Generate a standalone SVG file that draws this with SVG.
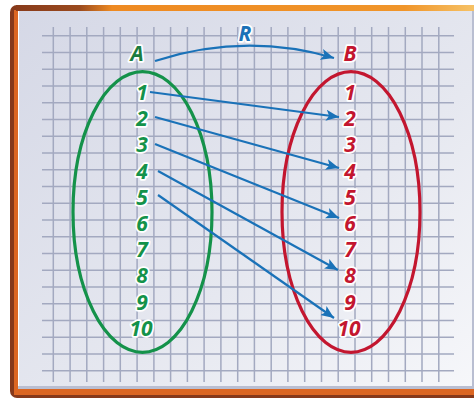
<svg xmlns="http://www.w3.org/2000/svg" width="474" height="398" viewBox="0 0 474 398">
  <defs>
    <linearGradient id="topbar" x1="10" y1="0" x2="474" y2="0" gradientUnits="userSpaceOnUse">
      <stop offset="0" stop-color="#86391b"/>
      <stop offset="0.15" stop-color="#9a4a1e"/>
      <stop offset="0.22" stop-color="#ee8a22"/>
      <stop offset="0.85" stop-color="#f0952a"/>
      <stop offset="1" stop-color="#f6c266"/>
    </linearGradient>
    <linearGradient id="paper" x1="0" y1="0" x2="1" y2="1">
      <stop offset="0" stop-color="#d5d8e6"/>
      <stop offset="0.6" stop-color="#e6e8f0"/>
      <stop offset="1" stop-color="#f6f7fa"/>
    </linearGradient>
    <marker id="ah" markerUnits="userSpaceOnUse" markerWidth="14" markerHeight="12" refX="13" refY="6" orient="auto">
      <path d="M0,0.5 L13,6 L0,11.5 L3,6 Z" fill="#1a72b8"/>
    </marker>
    <style>
      .grid { stroke: #a3a9c0; stroke-width: 1.5; fill: none; }
      .lbl { font-family: "Open Sans", "Liberation Sans", sans-serif; font-weight: bold; font-style: italic; font-size: 21px; text-anchor: middle; stroke: #ffffff; stroke-width: 3.5; stroke-linejoin: round; paint-order: stroke; }
      .g { fill: #14924a; }
      .gA { fill: #1b7c40; }
      .r { fill: #c3162f; }
      .b { fill: #1a72b8; }
      .conn { stroke: #1a72b8; stroke-width: 2.2; fill: none; marker-end: url(#ah); }
    </style>
  </defs>

  <!-- frame -->
  <rect x="10" y="5" width="480" height="393" rx="7" fill="#86391b"/>
  <rect x="14" y="10" width="470" height="385" fill="#dc6622"/>
  <rect x="16" y="5" width="470" height="6" fill="url(#topbar)"/>
  <rect x="18" y="11" width="456" height="378" fill="#b9bed1"/>
  <rect x="18" y="11" width="454" height="375" fill="url(#paper)"/>
  <line x1="18.5" y1="11" x2="18.5" y2="386" stroke="#ffffff" stroke-width="1"/>

  <!-- grid -->
  <path class="grid" d="M53.3,27V382 M70.1,27V382 M86.8,27V382 M103.6,27V382 M120.3,27V382 M137.1,27V382 M153.9,27V382 M170.6,27V382 M187.4,27V382 M204.1,27V382 M220.9,27V382 M237.7,27V382 M254.4,27V382 M271.2,27V382 M287.9,27V382 M304.7,27V382 M321.5,27V382 M338.2,27V382 M355,27V382 M371.7,27V382 M388.5,27V382 M405.3,27V382 M422,27V382 M438.8,27V382
  M42,35.7H454 M42,52.5H454 M42,69.2H454 M42,86H454 M42,102.7H454 M42,119.5H454 M42,136.2H454 M42,153H454 M42,169.7H454 M42,186.5H454 M42,203.2H454 M42,220H454 M42,236.7H454 M42,253.5H454 M42,270.2H454 M42,287H454 M42,303.7H454 M42,320.5H454 M42,337.2H454 M42,354H454 M42,370.7H454"/>

  <!-- set A -->
  <g id="setA">
    <ellipse cx="142.5" cy="212" rx="69.5" ry="140.3" fill="none" stroke="#14924a" stroke-width="3.2"/>
    <text class="lbl gA" x="137" y="61">A</text>
    <text class="lbl g" x="142" y="100">1</text>
    <text class="lbl g" x="142" y="126.2">2</text>
    <text class="lbl g" x="142" y="152.4">3</text>
    <text class="lbl g" x="142" y="178.6">4</text>
    <text class="lbl g" x="142" y="204.8">5</text>
    <text class="lbl g" x="142" y="231">6</text>
    <text class="lbl g" x="142" y="257.2">7</text>
    <text class="lbl g" x="142" y="283.4">8</text>
    <text class="lbl g" x="142" y="309.6">9</text>
    <text class="lbl g" x="141" y="335.8">10</text>
  </g>

  <!-- set B -->
  <g id="setB">
    <ellipse cx="351" cy="212" rx="69" ry="140.3" fill="none" stroke="#c3162f" stroke-width="3.2"/>
    <text class="lbl r" x="350" y="61">B</text>
    <text class="lbl r" x="350" y="100">1</text>
    <text class="lbl r" x="350" y="126.2">2</text>
    <text class="lbl r" x="350" y="152.4">3</text>
    <text class="lbl r" x="350" y="178.6">4</text>
    <text class="lbl r" x="350" y="204.8">5</text>
    <text class="lbl r" x="350" y="231">6</text>
    <text class="lbl r" x="350" y="257.2">7</text>
    <text class="lbl r" x="350" y="283.4">8</text>
    <text class="lbl r" x="350" y="309.6">9</text>
    <text class="lbl r" x="349" y="335.8">10</text>
  </g>

  <!-- connectors -->
  <g id="connectors">
    <path class="conn" d="M155,61 Q245,32 334,58"/>
    <text class="lbl b" x="245" y="41">R</text>
    <path class="conn" d="M150,92 L339,117"/>
    <path class="conn" d="M155,117 L339,168"/>
    <path class="conn" d="M155,144 L339,218"/>
    <path class="conn" d="M158,171 L338,270"/>
    <path class="conn" d="M158,195 L334,318"/>
  </g>
</svg>
